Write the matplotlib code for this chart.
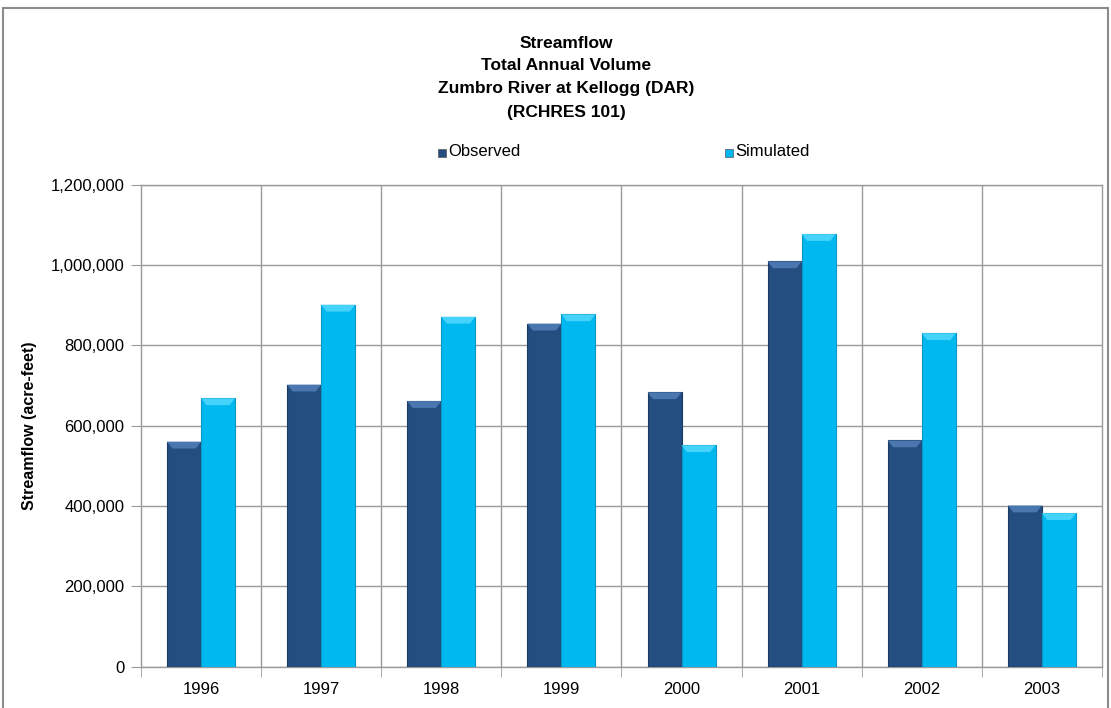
import numpy as np
import matplotlib
matplotlib.use("Agg")
import matplotlib.pyplot as plt
from matplotlib.patches import Polygon, Rectangle
from matplotlib.ticker import FuncFormatter, FixedLocator

plt.rcParams['font.family'] = ['Liberation Sans', 'DejaVu Sans']

years = ['1996', '1997', '1998', '1999', '2000', '2001', '2002', '2003']
observed = [560000, 702000, 661000, 854000, 683000, 1009000, 563000, 401000]
simulated = [668000, 901000, 871000, 877000, 551000, 1077000, 830000, 382000]

obs_color = '#244d80'
obs_light = '#4a77b0'
sim_color = '#00b8f0'
sim_light = '#45d2fb'
grid_color = '#9a9a9a'

fig = plt.figure(figsize=(11.11, 7.08), dpi=100)
ax = fig.add_axes([0.1269, 0.0586, 0.8650, 0.6805])

x = np.arange(len(years))
w = 0.283

bars_obs = ax.bar(x - w / 2, observed, w, color=obs_color, edgecolor='#1a3a63',
                  linewidth=0.8, zorder=3, label='Observed')
bars_sim = ax.bar(x + w / 2, simulated, w, color=sim_color, edgecolor='#0896c4',
                  linewidth=0.8, zorder=3, label='Simulated')

# bevelled tops like the spreadsheet style
dh = 17000
dx = 0.045
for bars, light in [(bars_obs, obs_light), (bars_sim, sim_light)]:
    for b in bars:
        x0 = b.get_x()
        x1 = x0 + b.get_width()
        top = b.get_height()
        ax.add_patch(Polygon([(x0, top), (x1, top), (x1 - dx, top - dh), (x0 + dx, top - dh)],
                             closed=True, facecolor=light, edgecolor='none', zorder=4))

ax.set_xlim(-0.5, len(years) - 0.5)
ax.set_ylim(0, 1200000)
ax.set_yticks(np.arange(0, 1200001, 200000))
ax.yaxis.set_major_formatter(FuncFormatter(lambda v, p: f'{int(v):,}'))
ax.set_xticks(x)
ax.set_xticklabels(years)
ax.xaxis.set_minor_locator(FixedLocator(np.arange(-0.5, len(years), 1.0)))

ax.tick_params(axis='y', length=7, color=grid_color, labelsize=12, pad=5)
ax.tick_params(axis='x', which='major', length=0, labelsize=12, pad=11)
ax.tick_params(axis='x', which='minor', length=7, color=grid_color)

ax.grid(axis='y', color=grid_color, linewidth=1.0, zorder=0)
for b in np.arange(0.5, len(years) - 1, 1.0):
    ax.axvline(b, color=grid_color, linewidth=1.0, zorder=0)
for s in ax.spines.values():
    s.set_color(grid_color)
    s.set_linewidth(1.0)

ax.set_ylabel('Streamflow (acre-feet)', fontsize=11.5, fontweight='bold', labelpad=10)

title_lines = ['Streamflow', 'Total Annual Volume', 'Zumbro River at Kellogg (DAR)', '(RCHRES 101)']
for i, line in enumerate(title_lines):
    fig.text(0.5095, 1 - (43 + 23 * i) / 708, line, ha='center', va='center',
             fontsize=12.5, fontweight='bold')

# legend entries placed as in the original (two widely spaced items)
for lx, lab, col in [(443, 'Observed', obs_color), (730, 'Simulated', sim_color)]:
    fig.patches.append(Rectangle((lx / 1111 - 0.0045, 1 - 157 / 708), 0.0072, 0.0113,
                                 transform=fig.transFigure, facecolor=col,
                                 edgecolor='#555555', linewidth=0.5))
    fig.text(lx / 1111 + 0.0045, 1 - 152 / 708, lab, ha='left', va='center', fontsize=12)

# outer chart frame
fig.patches.append(Rectangle((3 / 1111, -0.01), 1105 / 1111, 1 - 8 / 708 + 0.01,
                             transform=fig.transFigure, facecolor='none',
                             edgecolor='#8c8c8c', linewidth=1.5))

fig.savefig('out.png', dpi=100)
